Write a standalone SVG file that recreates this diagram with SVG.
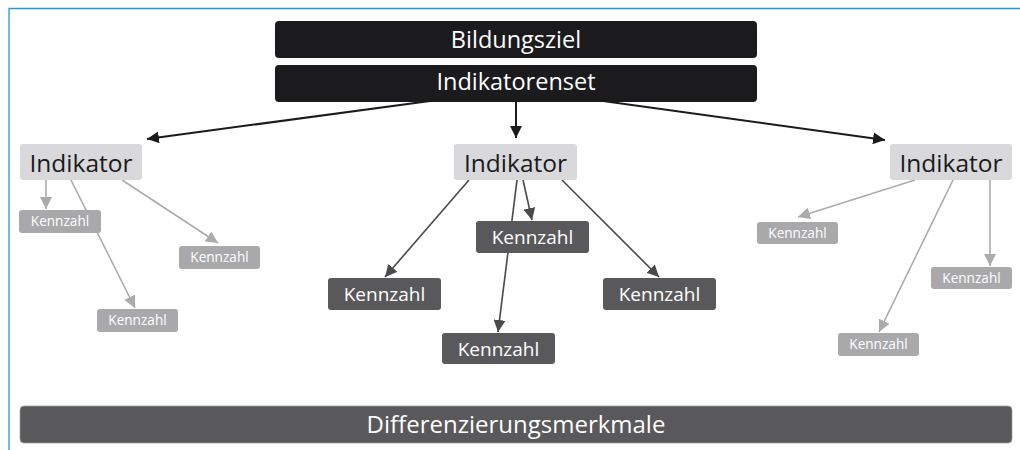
<svg xmlns="http://www.w3.org/2000/svg" width="1020" height="450" viewBox="0 0 1020 450">
<style>
text{font-family:"Open Sans","Noto Sans","DejaVu Sans",sans-serif;text-anchor:middle}
.top{fill:#1b1a1d}
.top-t{fill:#ffffff;font-size:23.5px}
.ind{fill:#d9d9db}
.ind-t{fill:#1b1a1d;font-size:24.5px}
.kl{fill:#a9a9ab}
.kl-t{fill:#ffffff;font-size:13.6px}
.kd{fill:#59595b}
.kd-t{fill:#ffffff;font-size:19px}
.bar{fill:#59595b;stroke:#a0a0a0;stroke-width:0.8}
.bar-t{fill:#ffffff;font-size:24px}
.c-top{stroke:#1b1a1d;stroke-width:2;fill:none;marker-end:url(#ah-black)}
.c-light{stroke:#ababab;stroke-width:1.6;fill:none;marker-end:url(#ah-light)}
.c-dark{stroke:#4a4a4c;stroke-width:1.6;fill:none;marker-end:url(#ah-dark)}
</style>
<defs>
<marker id="ah-black" viewBox="0 0 10 10" refX="10" refY="5" markerWidth="6" markerHeight="6" orient="auto" markerUnits="strokeWidth"><path d="M0,0 L10,5 L0,10 z" fill="#1b1a1d"/></marker>
<marker id="ah-light" viewBox="0 0 10 10" refX="10" refY="5" markerWidth="7.5" markerHeight="7.5" orient="auto" markerUnits="strokeWidth"><path d="M0,0 L10,5 L0,10 z" fill="#ababab"/></marker>
<marker id="ah-dark" viewBox="0 0 10 10" refX="10" refY="5" markerWidth="7.5" markerHeight="7.5" orient="auto" markerUnits="strokeWidth"><path d="M0,0 L10,5 L0,10 z" fill="#4a4a4c"/></marker>
</defs>
<rect width="1020" height="450" fill="#ffffff"/>
<g id="frame">
<path d="M9,450 V8.5 H1020" stroke="#1e9bd7" stroke-width="1.3" fill="none"/>
</g>
<g id="connectors">
<path class="c-top" d="M430,101 L147,139"/>
<path class="c-top" d="M516,101 L516,138"/>
<path class="c-top" d="M603,101 L885,140"/>
<path class="c-light" d="M46,180 L46,209"/>
<path class="c-light" d="M71,180 L135,308"/>
<path class="c-light" d="M122,180 L218,243"/>
<path class="c-dark" d="M469,180 L385,277"/>
<path class="c-dark" d="M517,180 L498,332"/>
<path class="c-dark" d="M523,180 L532,220"/>
<path class="c-dark" d="M562,180 L659,277"/>
<path class="c-light" d="M915,180 L798,217"/>
<path class="c-light" d="M953,180 L879,332"/>
<path class="c-light" d="M990,180 L990,266"/>
</g>
<g id="bildungsziel"><rect class="top" x="275" y="21" width="482" height="37" rx="4"/><text class="top-t" x="516" y="47.5">Bildungsziel</text></g>
<g id="indikatorenset"><rect class="top" x="275" y="65" width="482" height="37" rx="4"/><text class="top-t" x="516" y="90">Indikatorenset</text></g>
<g id="indikator-left"><rect class="ind" x="20" y="144" width="122" height="36" rx="3"/><text class="ind-t" x="81" y="172">Indikator</text></g>
<g id="indikator-mid"><rect class="ind" x="454" y="144" width="123" height="36" rx="3"/><text class="ind-t" x="515.5" y="172">Indikator</text></g>
<g id="indikator-right"><rect class="ind" x="890" y="144" width="122" height="36" rx="3"/><text class="ind-t" x="951" y="172">Indikator</text></g>
<g id="kl1"><rect class="kl" x="19" y="210" width="82" height="23" rx="3"/><text class="kl-t" x="60" y="226">Kennzahl</text></g>
<g id="kl2"><rect class="kl" x="179" y="246" width="81" height="23" rx="3"/><text class="kl-t" x="219.5" y="262">Kennzahl</text></g>
<g id="kl3"><rect class="kl" x="97" y="309" width="81" height="23" rx="3"/><text class="kl-t" x="137.5" y="325">Kennzahl</text></g>
<g id="km1"><rect class="kd" x="328" y="278" width="113" height="32" rx="3"/><text class="kd-t" x="384.5" y="301">Kennzahl</text></g>
<g id="km2"><rect class="kd" x="476" y="221" width="113" height="32" rx="3"/><text class="kd-t" x="532.5" y="244">Kennzahl</text></g>
<g id="km3"><rect class="kd" x="442" y="333" width="113" height="31" rx="3"/><text class="kd-t" x="498.5" y="355.5">Kennzahl</text></g>
<g id="km4"><rect class="kd" x="603" y="278" width="113" height="32" rx="3"/><text class="kd-t" x="659.5" y="301">Kennzahl</text></g>
<g id="kr1"><rect class="kl" x="757" y="222" width="81" height="22" rx="3"/><text class="kl-t" x="797.5" y="237.5">Kennzahl</text></g>
<g id="kr2"><rect class="kl" x="931" y="267" width="81" height="22" rx="3"/><text class="kl-t" x="971.5" y="282.5">Kennzahl</text></g>
<g id="kr3"><rect class="kl" x="838" y="333" width="81" height="23" rx="3"/><text class="kl-t" x="878.5" y="349">Kennzahl</text></g>
<g id="differenzierungsmerkmale"><rect class="bar" x="20" y="406" width="992" height="37" rx="4"/><text class="bar-t" x="516" y="433">Differenzierungsmerkmale</text></g>
</svg>
